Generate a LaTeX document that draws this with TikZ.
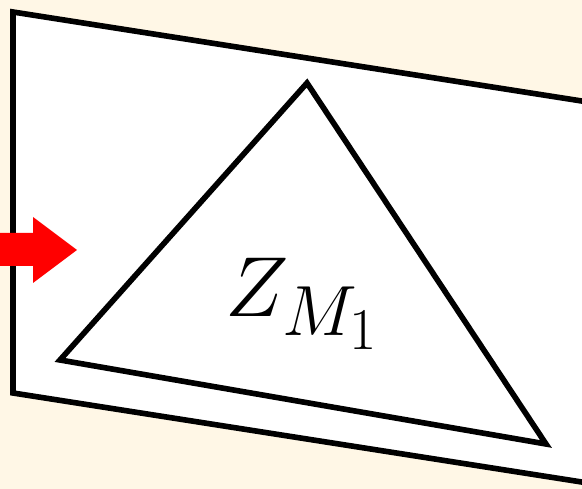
\documentclass[tikz,border=0pt]{standalone}
\usepackage{amsmath}
\usetikzlibrary{calc}
\definecolor{pagecream}{RGB}{255,247,230}
\definecolor{arrowred}{RGB}{255,0,0}
\tikzset{
  plane/.style={draw=black, fill=white, line width=3.2pt, line join=miter},
  region/.style={draw=black, fill=white, line width=3.2pt, line join=miter},
  pointer/.style={fill=arrowred, draw=none},
  setlabel/.style={inner sep=0pt, font=\Huge, scale=1.95}
}
\begin{document}
\begin{tikzpicture}[x=0.02cm, y=-0.02cm]
  \fill[pagecream] (0,0) rectangle (582,489);
  \clip (0,0) rectangle (582,489);

  % plane, running off the right edge
  \coordinate (pa) at (13,12);
  \coordinate (pb) at (620,107);
  \coordinate (pc) at (620,488);
  \coordinate (pd) at (13,393);
  \draw[plane] (pa) -- (pb) -- (pc) -- (pd) -- cycle;

  % subset on the plane
  \coordinate (ttop) at (307,83);
  \coordinate (tleft) at (60,360);
  \coordinate (tright) at (546,444);
  \draw[region] (ttop) -- (tleft) -- (tright) -- cycle;
  \node[setlabel] (zlabel) at (303,304) {$Z_{M_1}$};

  % incoming arrow
  \draw[pointer] (-10,233) -- (33,233) -- (33,217) -- (77,250)
    -- (33,283) -- (33,266) -- (-10,266) -- cycle;
\end{tikzpicture}
\end{document}
